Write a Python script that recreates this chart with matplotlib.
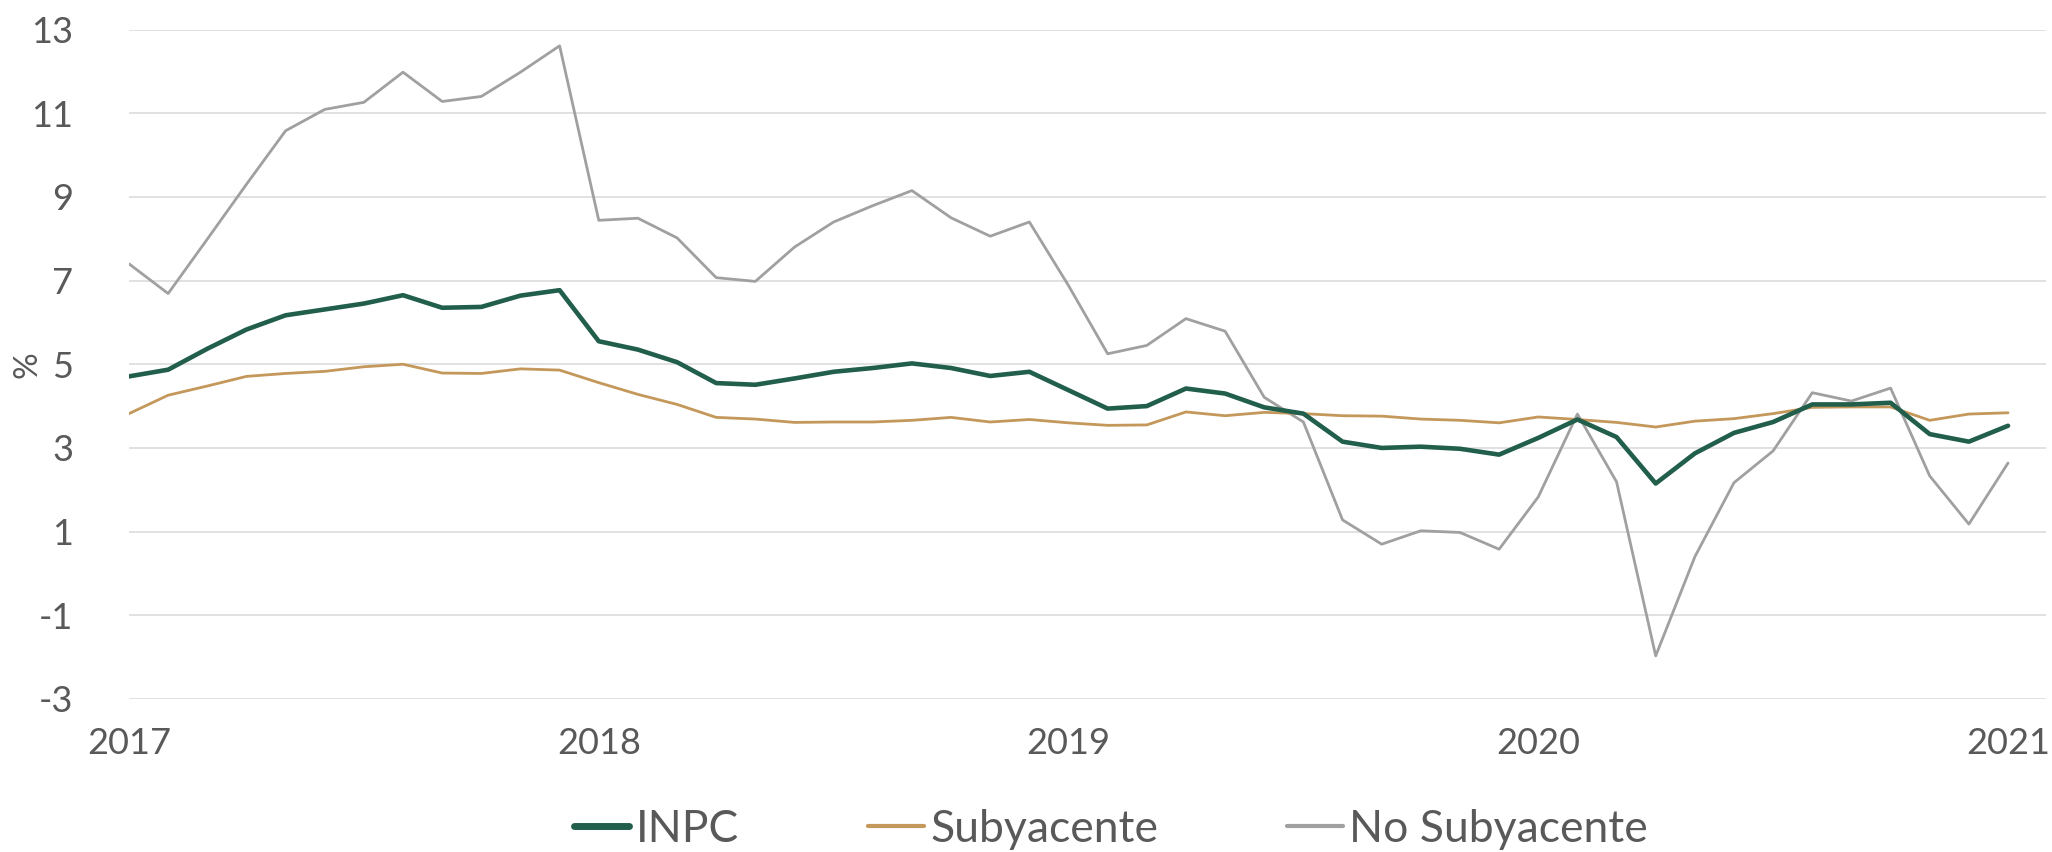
import numpy as np
import matplotlib
matplotlib.use("Agg")
import matplotlib.pyplot as plt

# inflacion anual mensual, ene-2017 a ene-2021
years = ["2017", "2018", "2019", "2020", "2021"]
inpc = [4.71, 4.87, 5.37, 5.83, 6.17, 6.31, 6.45, 6.65, 6.35, 6.37, 6.64, 6.77,
        5.55, 5.35, 5.05, 4.55, 4.51, 4.66, 4.82, 4.91, 5.02, 4.91, 4.72, 4.82,
        4.38, 3.94, 4.00, 4.42, 4.30, 3.97, 3.82, 3.15, 3.00, 3.03, 2.98, 2.84,
        3.24, 3.68, 3.26, 2.15, 2.87, 3.36, 3.62, 4.04, 4.04, 4.08, 3.33, 3.15,
        3.53]
subyacente = [3.82, 4.26, 4.48, 4.71, 4.78, 4.83, 4.94, 5.00, 4.79, 4.78, 4.89, 4.86,
              4.56, 4.28, 4.04, 3.73, 3.69, 3.61, 3.62, 3.62, 3.66, 3.73, 3.62, 3.68,
              3.60, 3.54, 3.55, 3.86, 3.77, 3.85, 3.82, 3.77, 3.76, 3.69, 3.66, 3.60,
              3.74, 3.68, 3.61, 3.50, 3.64, 3.70, 3.82, 3.97, 3.98, 3.98, 3.66, 3.81,
              3.84]
no_subyacente = [7.40, 6.69, 7.99, 9.30, 10.58, 11.09, 11.26, 11.98, 11.28, 11.40, 11.98, 12.61,
                 8.44, 8.49, 8.02, 7.07, 6.98, 7.80, 8.40, 8.79, 9.15, 8.50, 8.06, 8.40,
                 6.88, 5.25, 5.45, 6.09, 5.79, 4.21, 3.62, 1.28, 0.70, 1.02, 0.98, 0.58,
                 1.83, 3.81, 2.19, -1.97, 0.40, 2.17, 2.93, 4.32, 4.12, 4.43, 2.33, 1.18,
                 2.64]
y_ticks = [-3, -1, 1, 3, 5, 7, 9, 11, 13]

GREEN = "#225e4c"
GOLD = "#c4975a"
GRAY = "#a0a0a0"
TXT = "#595959"
FONT = "Lato"

x = np.arange(len(inpc))

fig = plt.figure(figsize=(20.52, 8.52), dpi=100)
ax = fig.add_axes([129 / 2052, 1 - 699 / 852, (2046 - 129) / 2052, (699 - 29.5) / 852])

ax.plot(x, inpc, color=GREEN, lw=3.3, label="INPC", solid_capstyle="round", solid_joinstyle="round", zorder=4)
ax.plot(x, subyacente, color=GOLD, lw=2.0, label="Subyacente", solid_capstyle="round", solid_joinstyle="round", zorder=3)
ax.plot(x, no_subyacente, color=GRAY, lw=2.0, label="No Subyacente", solid_capstyle="round", solid_joinstyle="round", zorder=2)

ax.set_xlim(0, 48.97)
ax.set_ylim(-3, 13)
ax.set_yticks(y_ticks)
ax.set_yticklabels([str(v) for v in y_ticks], fontsize=26, color=TXT, family=FONT)
ax.set_xticks(np.arange(len(years)) * 12)
ax.set_xticklabels(years, fontsize=26, color=TXT, family=FONT)
ax.tick_params(axis="y", length=0, pad=40)
ax.tick_params(axis="x", length=0, pad=20)
ax.grid(axis="y", color="#d9d9d9", lw=1.1)
ax.set_axisbelow(True)
for s in ax.spines.values():
    s.set_visible(False)

fig.text(27 / 2052, 1 - 365 / 852, "%", rotation=90, ha="center", va="center",
         fontsize=24, color=TXT, family=FONT)

leg = fig.legend(loc="center", bbox_to_anchor=(1111 / 2052, 1 - 829 / 852), ncol=3, frameon=False,
                 prop={"family": FONT, "size": 32}, labelcolor=TXT,
                 handlelength=1.25, handletextpad=0.15, columnspacing=2.9)
for ln, w in zip(leg.get_lines(), [5, 3, 3]):
    ln.set_linewidth(w)
    ln.set_solid_capstyle("round")

fig.savefig("out.png", dpi=100)
